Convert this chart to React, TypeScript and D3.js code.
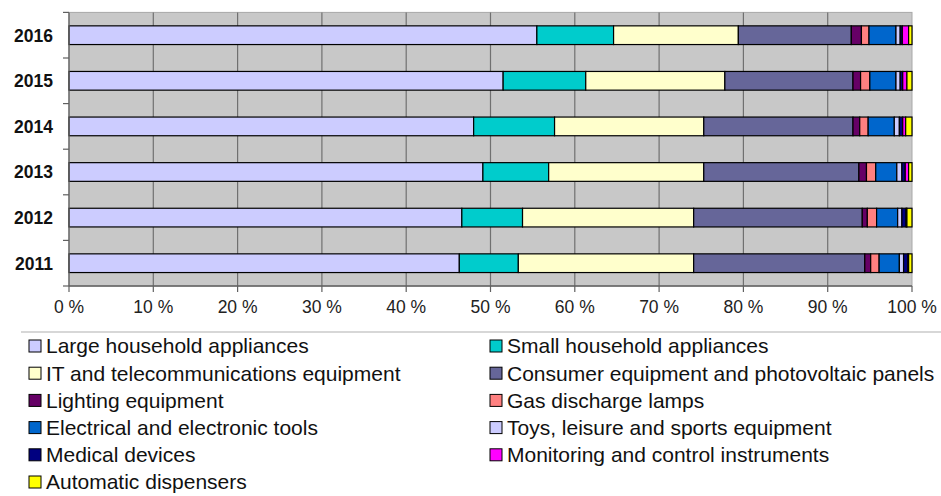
import React from "react";
import * as d3 from "d3";

const years = ["2011", "2012", "2013", "2014", "2015", "2016"];
const categories = [
  "Large household appliances",
  "Small household appliances",
  "IT and telecommunications equipment",
  "Consumer equipment and photovoltaic panels",
  "Lighting equipment",
  "Gas discharge lamps",
  "Electrical and electronic tools",
  "Toys, leisure and sports equipment",
  "Medical devices",
  "Monitoring and control instruments",
  "Automatic dispensers",
];
const colors = ["#ccccff", "#00cccc", "#ffffcc", "#666699", "#660066", "#ff8080", "#0066cc", "#ccccff", "#000080", "#ff00ff", "#ffff00"];

// values per category, order 2011..2016 (percent)
const large = [46.3, 46.6, 49.1, 48.0, 51.5, 55.5];
const small = [7.0, 7.2, 7.8, 9.6, 9.8, 9.1];
const itTele = [20.8, 20.3, 18.4, 17.7, 16.5, 14.8];
const consumer = [20.3, 20.0, 18.4, 17.7, 15.2, 13.4];
const lighting = [0.7, 0.6, 0.9, 0.8, 0.9, 1.2];
const gasLamps = [1.0, 1.1, 1.1, 1.0, 1.1, 0.9];
const tools = [2.4, 2.5, 2.5, 3.1, 3.1, 3.2];
const toys = [0.5, 0.5, 0.6, 0.6, 0.5, 0.5];
const medical = [0.5, 0.5, 0.4, 0.4, 0.3, 0.25];
const monitoring = [0.1, 0.1, 0.4, 0.35, 0.5, 0.75];
const dispensers = [0.4, 0.6, 0.4, 0.75, 0.6, 0.4];

const xTicks = [0, 10, 20, 30, 40, 50, 60, 70, 80, 90, 100];

const seriesValues = [large, small, itTele, consumer, lighting, gasLamps, tools, toys, medical, monitoring, dispensers];

export default function App() {
  const W = 941, H = 496;
  const left = 69, right = 912, top = 12.4, bottom = 286;
  const x = d3.scaleLinear().domain([0, 100]).range([left, right]);
  const y = d3.scaleBand().domain([...years].reverse()).range([top, bottom]).paddingInner(0.59).paddingOuter(0.295);
  const bandStep = (bottom - top) / years.length;

  const rows = years.map((yr, i) => {
    const obj: any = { year: yr };
    categories.forEach((c, k) => (obj[c] = seriesValues[k][i]));
    return obj;
  });
  const stack = d3.stack<any>().keys(categories);
  const stacked = stack(rows);
  const totals = rows.map((r) => d3.sum(categories, (c) => r[c]));

  const font = "'Liberation Sans', Arial, sans-serif";
  const legendRowY = (i: number) => 346 + i * 27.2;

  return (
    <svg width={W} height={H} style={{ position: "absolute", left: 0, top: 0, background: "#fff" }} fontFamily={font}>
      <rect x={left} y={top} width={right - left} height={bottom - top} fill="#c8c8c8" stroke="#a8a8a8" strokeWidth={1} />
      {xTicks.slice(1, -1).map((t) => (
        <line key={t} x1={x(t)} x2={x(t)} y1={top} y2={bottom} stroke="#707070" strokeWidth={1.2} />
      ))}
      {stacked.map((s, k) => (
        <g key={k}>
          {s.map((d, i) => {
            const tot = totals[i];
            const x0 = x((d[0] / tot) * 100);
            const x1 = x((d[1] / tot) * 100);
            return (
              <rect key={i} x={x0} y={y(rows[i].year)!} width={x1 - x0} height={y.bandwidth()} fill={colors[k]} stroke="#000" strokeWidth={1.2} />
            );
          })}
        </g>
      ))}
      <line x1={left} x2={left} y1={top} y2={bottom} stroke="#606060" strokeWidth={1.3} />
      <line x1={left} x2={right} y1={bottom} y2={bottom} stroke="#606060" strokeWidth={1.3} />
      {d3.range(years.length + 1).map((i) => (
        <line key={i} x1={left - 6} x2={left} y1={top + i * bandStep} y2={top + i * bandStep} stroke="#606060" strokeWidth={1.2} />
      ))}
      {xTicks.map((t) => (
        <g key={t}>
          <line x1={x(t)} x2={x(t)} y1={bottom} y2={bottom + 6} stroke="#606060" strokeWidth={1.2} />
          <text x={x(t)} y={307} dy="0.35em" textAnchor="middle" fontSize={17.5} fill="#222">
            {t} %
          </text>
        </g>
      ))}
      {years.map((yr) => (
        <text key={yr} x={53} y={y(yr)! + y.bandwidth() / 2} dy="0.36em" textAnchor="end" fontSize={17.5} fontWeight="bold" fill="#111">
          {yr}
        </text>
      ))}
      <line x1={21} x2={941} y1={332} y2={332} stroke="#b0b0b0" strokeWidth={1.2} />
      {categories.map((c, k) => {
        const col = k % 2;
        const row = Math.floor(k / 2);
        const sx = col === 0 ? 29 : 490;
        const cy = legendRowY(row);
        return (
          <g key={c}>
            <rect x={sx} y={cy - 6} width={12} height={12} fill={colors[k]} stroke="#000" strokeWidth={1} />
            <text x={sx + 17} y={cy} dy="0.35em" fontSize={21} fill="#111">
              {c}
            </text>
          </g>
        );
      })}
    </svg>
  );
}
